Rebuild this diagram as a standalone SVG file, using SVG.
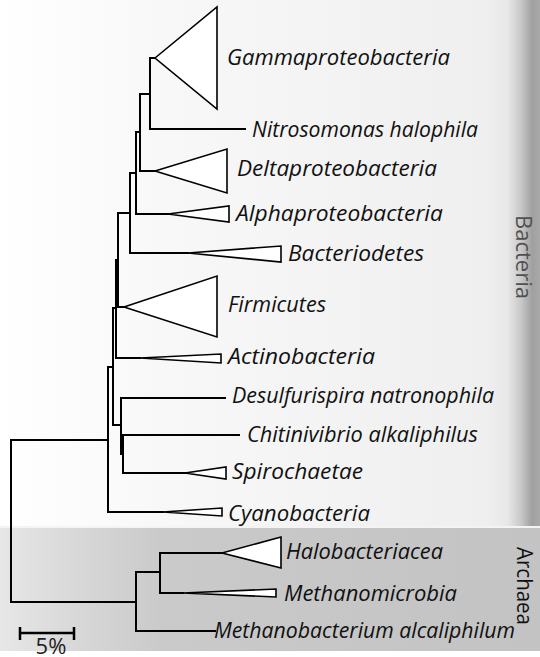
<svg xmlns="http://www.w3.org/2000/svg" width="540" height="657" viewBox="0 0 540 657">
<defs>
<linearGradient id="gB" gradientUnits="userSpaceOnUse" x1="0" y1="0" x2="540" y2="0">
<stop offset="0" stop-color="#ffffff"/>
<stop offset="0.3" stop-color="#f8f8f8"/>
<stop offset="0.9" stop-color="#efefef"/>
<stop offset="0.94" stop-color="#e8e8e8"/>
<stop offset="0.965" stop-color="#c8c8c8"/>
<stop offset="0.985" stop-color="#a0a0a0"/>
<stop offset="1" stop-color="#a8a8a8"/>
</linearGradient>
<linearGradient id="gA" gradientUnits="userSpaceOnUse" x1="0" y1="0" x2="540" y2="0">
<stop offset="0" stop-color="#e7e7e7"/>
<stop offset="0.15" stop-color="#d7d7d7"/>
<stop offset="0.3" stop-color="#cacaca"/>
<stop offset="1" stop-color="#c3c3c3"/>
</linearGradient>
</defs>
<style>
.br{fill:none;stroke:#000;stroke-width:2;stroke-linecap:square}
.tri{fill:#fff;stroke:#000;stroke-width:1.6}
.lab{font-family:"Open Sans","Noto Sans",sans-serif;font-style:italic;font-size:22px;fill:#111}
.dom{font-family:"Open Sans","Noto Sans",sans-serif;font-size:22px}
.sc{fill:none;stroke:#000;stroke-width:2.5}
</style>
<g id="background">
<rect x="0" y="0" width="540" height="526" fill="url(#gB)"/>
<rect x="0" y="526" width="540" height="2" fill="#f4f4f4"/>
<rect x="0" y="528" width="540" height="123" fill="url(#gA)"/>
<rect x="0" y="651" width="540" height="6" fill="#ffffff"/>
</g>
<g id="connectors">
<path class="br" d="M11 440V602M11 440H108M11 602H136"/>
<path class="br" d="M108 367V512M108 367H113M108 512H163"/>
<path class="br" d="M113 308V425M113 308H116M113 425H121"/>
<path class="br" d="M116 260V358M116 260H118M116 358H140"/>
<path class="br" d="M118 213V307M118 213H130M118 307H124"/>
<path class="br" d="M130 173V253M130 173H136M130 253H188"/>
<path class="br" d="M136 132V214M136 132H140M136 214H168"/>
<path class="br" d="M140 94V171M140 94H150M140 171H155"/>
<path class="br" d="M150 58V129M150 58H155M150 129H245"/>
<path class="br" d="M121 398V454M121 398H225M121 454H123"/>
<path class="br" d="M123 435V473M123 435H239M123 473H185"/>
<path class="br" d="M136 572V631M136 572H160M136 631H215"/>
<path class="br" d="M160 553V593M160 553H222M160 593H183"/>
</g>
<g id="gammaproteobacteria">
<polygon class="tri" points="155,58 217,7 217,109"/>
<text class="lab" x="227" y="65" textLength="223" lengthAdjust="spacingAndGlyphs">Gammaproteobacteria</text>
</g>
<g id="nitrosomonas">
<text class="lab" x="252" y="137" textLength="226" lengthAdjust="spacingAndGlyphs">Nitrosomonas halophila</text>
</g>
<g id="deltaproteobacteria">
<polygon class="tri" points="155,171 227,149 227,193"/>
<text class="lab" x="237" y="176" textLength="200" lengthAdjust="spacingAndGlyphs">Deltaproteobacteria</text>
</g>
<g id="alphaproteobacteria">
<polygon class="tri" points="168,214 229,206 229,222"/>
<text class="lab" x="236" y="221" textLength="207" lengthAdjust="spacingAndGlyphs">Alphaproteobacteria</text>
</g>
<g id="bacteriodetes">
<polygon class="tri" points="188,253 281,246 281,262"/>
<text class="lab" x="288" y="261" textLength="136" lengthAdjust="spacingAndGlyphs">Bacteriodetes</text>
</g>
<g id="firmicutes">
<polygon class="tri" points="124,307 217,276 217,337"/>
<text class="lab" x="228" y="312" textLength="98" lengthAdjust="spacingAndGlyphs">Firmicutes</text>
</g>
<g id="actinobacteria">
<polygon class="tri" points="140,358 221,354 221,363"/>
<text class="lab" x="228" y="364" textLength="147" lengthAdjust="spacingAndGlyphs">Actinobacteria</text>
</g>
<g id="desulfurispira">
<text class="lab" x="232" y="403" textLength="262" lengthAdjust="spacingAndGlyphs">Desulfurispira natronophila</text>
</g>
<g id="chitinivibrio">
<text class="lab" x="247" y="442" textLength="231" lengthAdjust="spacingAndGlyphs">Chitinivibrio alkaliphilus</text>
</g>
<g id="spirochaetae">
<polygon class="tri" points="185,473 226,467 226,479"/>
<text class="lab" x="232" y="479" textLength="131" lengthAdjust="spacingAndGlyphs">Spirochaetae</text>
</g>
<g id="cyanobacteria">
<polygon class="tri" points="163,512 222,508 222,516"/>
<text class="lab" x="228" y="521" textLength="142" lengthAdjust="spacingAndGlyphs">Cyanobacteria</text>
</g>
<g id="halobacteriacea">
<polygon class="tri" points="222,553 281,537 281,568"/>
<text class="lab" x="286" y="559" textLength="157" lengthAdjust="spacingAndGlyphs">Halobacteriacea</text>
</g>
<g id="methanomicrobia">
<polygon class="tri" points="183,593 276,589 276,597"/>
<text class="lab" x="284" y="601" textLength="173" lengthAdjust="spacingAndGlyphs">Methanomicrobia</text>
</g>
<g id="methanobacterium">
<text class="lab" x="214" y="638" textLength="301" lengthAdjust="spacingAndGlyphs">Methanobacterium alcaliphilum</text>
</g>
<g id="bacteria-label">
<text class="dom" transform="translate(516,215) rotate(90)" fill="#505050" textLength="84" lengthAdjust="spacingAndGlyphs">Bacteria</text>
</g>
<g id="archaea-label">
<text class="dom" transform="translate(517,547) rotate(90)" fill="#111" textLength="78" lengthAdjust="spacingAndGlyphs">Archaea</text>
</g>
<g id="scale-bar">
<path class="sc" d="M20 633H74M20 627V640M74 627V640"/>
<text class="dom" x="51" y="654" text-anchor="middle" fill="#222">5%</text>
</g>
</svg>
